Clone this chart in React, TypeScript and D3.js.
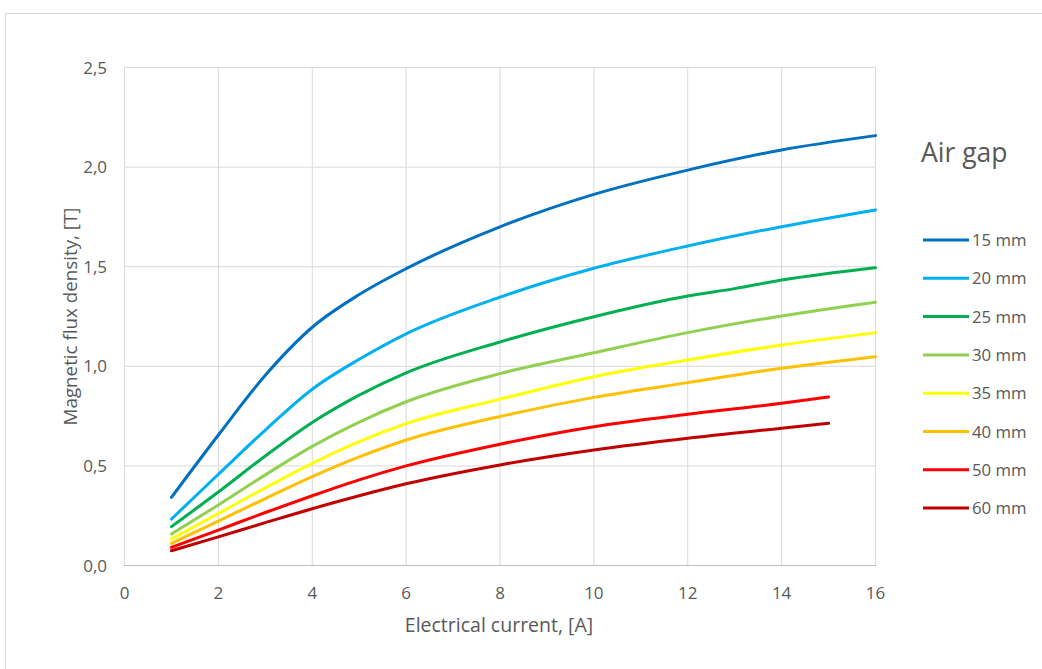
import React from "react";
import * as d3 from "d3";

const currents = [1, 2, 3, 4, 5, 6, 8, 10, 12, 14, 16];
const currents15 = [1, 2, 3, 4, 5, 6, 8, 10, 12, 14, 15];
const currents25 = [1, 2, 3, 4, 5, 6, 8, 10, 12, 13, 14, 16];

const gap15 = [0.342, 0.655, 0.955, 1.196, 1.36, 1.49, 1.70, 1.863, 1.985, 2.086, 2.158];
const gap20 = [0.233, 0.458, 0.68, 0.885, 1.035, 1.163, 1.347, 1.492, 1.604, 1.701, 1.785];
const gap25 = [0.195, 0.369, 0.55, 0.718, 0.855, 0.967, 1.122, 1.249, 1.353, 1.39, 1.433, 1.495];
const gap30 = [0.158, 0.304, 0.455, 0.598, 0.72, 0.822, 0.963, 1.068, 1.169, 1.253, 1.322];
const gap35 = [0.133, 0.261, 0.39, 0.513, 0.622, 0.712, 0.835, 0.948, 1.032, 1.107, 1.169];
const gap40 = [0.111, 0.223, 0.336, 0.446, 0.545, 0.63, 0.748, 0.844, 0.918, 0.99, 1.048];
const gap50 = [0.091, 0.178, 0.266, 0.35, 0.43, 0.5, 0.609, 0.697, 0.759, 0.814, 0.846];
const gap60 = [0.074, 0.144, 0.215, 0.285, 0.35, 0.41, 0.505, 0.58, 0.639, 0.689, 0.714];

const seriesNames = ["15 mm", "20 mm", "25 mm", "30 mm", "35 mm", "40 mm", "50 mm", "60 mm"];
const seriesColors = ["#0070C0", "#00B0F0", "#00B050", "#92D050", "#FFFF00", "#FFC000", "#FF0000", "#C00000"];
const seriesX = [currents, currents, currents25, currents, currents, currents, currents15, currents15];
const seriesY = [gap15, gap20, gap25, gap30, gap35, gap40, gap50, gap60];

const xTicks = [0, 2, 4, 6, 8, 10, 12, 14, 16];
const yTicks = [0, 0.5, 1.0, 1.5, 2.0, 2.5];

const FONT = "'Open Sans', Lato, sans-serif";
const TEXT = "#595959";

export default function App() {
  const x = d3.scaleLinear().domain([0, 16]).range([124.5, 875.5]);
  const y = d3.scaleLinear().domain([0, 2.5]).range([565.5, 67.5]);
  const line = d3
    .line<[number, number]>()
    .x((d) => x(d[0]))
    .y((d) => y(d[1]))
    .curve(d3.curveMonotoneX);

  const fmt = (v: number) => v.toFixed(1).replace(".", ",");

  return (
    <div style={{ position: "absolute", left: 0, top: 0 }}>
      <svg width={1042} height={669} style={{ display: "block", background: "#fff" }}>
        <rect x={5.5} y={13.5} width={1100} height={700} fill="#fff" stroke="#d9d9d9" strokeWidth={1} />
        {/* grid */}
        {yTicks.map((t) => (
          <line key={"gy" + t} x1={x(0)} x2={x(16)} y1={y(t)} y2={y(t)} stroke="#d9d9d9" strokeWidth={1} />
        ))}
        {xTicks.map((t) => (
          <line key={"gx" + t} x1={x(t)} x2={x(t)} y1={y(0)} y2={y(2.5)} stroke="#d9d9d9" strokeWidth={1} />
        ))}
        <line x1={x(0)} x2={x(16)} y1={y(0)} y2={y(0)} stroke="#bfbfbf" strokeWidth={1} />
        {/* tick labels */}
        {yTicks.map((t) => (
          <text key={"ty" + t} x={107} y={y(t)} dy="0.36em" textAnchor="end" fontSize={17} fill={TEXT} fontFamily={FONT}>
            {fmt(t)}
          </text>
        ))}
        {xTicks.map((t) => (
          <text key={"tx" + t} x={x(t)} y={599} textAnchor="middle" fontSize={17} fill={TEXT} fontFamily={FONT}>
            {t}
          </text>
        ))}
        <text x={499} y={632} textAnchor="middle" fontSize={19.5} fill={TEXT} fontFamily={FONT}>
          Electrical current, [A]
        </text>
        <text
          transform={`translate(77,${y(1.25)}) rotate(-90)`}
          textAnchor="middle"
          fontSize={18.8}
          fill={TEXT}
          fontFamily={FONT}
        >
          Magnetic flux density, [T]
        </text>
        {/* series */}
        {seriesY.map((vals, i) => {
          const pts = vals.map((v, j) => [seriesX[i][j], v] as [number, number]);
          return (
            <path key={seriesNames[i]} d={line(pts) || ""} fill="none" stroke={seriesColors[i]} strokeWidth={3} strokeLinecap="round" />
          );
        })}
        {/* legend */}
        <text x={921} y={161.5} fontSize={26.5} fill={TEXT} fontFamily={FONT}>
          Air gap
        </text>
        {seriesNames.map((n, i) => {
          const ly = 240 + i * 38.3;
          return (
            <g key={"lg" + n}>
              <line x1={923} x2={969} y1={ly} y2={ly} stroke={seriesColors[i]} strokeWidth={3} />
              <text x={972} y={ly} dy="0.36em" fontSize={16.8} fill={TEXT} fontFamily={FONT}>
                {n}
              </text>
            </g>
          );
        })}
      </svg>
    </div>
  );
}
